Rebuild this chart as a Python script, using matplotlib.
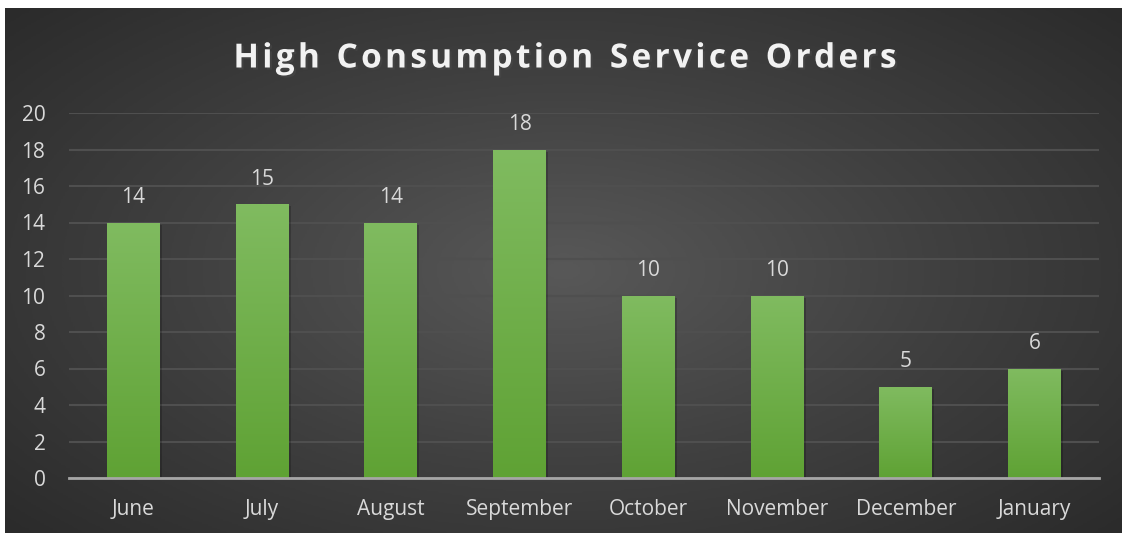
import numpy as np
import matplotlib.pyplot as plt
import matplotlib.patheffects as pe
from matplotlib.colors import LinearSegmentedColormap

# chart data
months = ['June', 'July', 'August', 'September', 'October', 'November', 'December', 'January']
orders = [14, 15, 14, 18, 10, 10, 5, 6]
y_ticks = [0, 2, 4, 6, 8, 10, 12, 14, 16, 18, 20]

fig = plt.figure(figsize=(11.22, 5.33), dpi=100)
fig.patch.set_facecolor('white')

# dark radial background panel
bg = fig.add_axes([5 / 1122, 0, 1 - 5 / 1122, 1 - 8 / 533])
bg.set_axis_off()
yy, xx = np.mgrid[-1:1:300j, -1:1:600j]
r = np.sqrt((xx / 1.0) ** 2 + (yy / 1.1) ** 2)
bg_cmap = LinearSegmentedColormap.from_list('bg', ['#585858', '#404040', '#2b2b2b'])
bg.imshow(r, cmap=bg_cmap, vmin=0, vmax=1.35, aspect='auto', extent=[0, 1, 0, 1])
bg.set_xlim(0, 1)
bg.set_ylim(0, 1)

# main plot
ax = fig.add_axes([69 / 1122, 1 - 478 / 533, 1030 / 1122, 365 / 533])
ax.patch.set_alpha(0)
x = np.arange(len(months))
bars = ax.bar(x, orders, width=0.41, color='#6aab44', zorder=3,
              path_effects=[pe.SimplePatchShadow(offset=(1.5, -1.5), shadow_rgbFace='black', alpha=0.2),
                            pe.Normal()])

# green gradient inside bars
grad_cmap = LinearSegmentedColormap.from_list('g', ['#5fa234', '#80bb60'])
grad = np.linspace(0, 1, 256).reshape(-1, 1)
for b in bars:
    im = ax.imshow(grad, cmap=grad_cmap, aspect='auto', origin='lower', zorder=4,
                   extent=[b.get_x(), b.get_x() + b.get_width(), 0, b.get_height()])
    im.set_clip_path(b)

for xi, v in zip(x, orders):
    ax.text(xi, v + 0.8, str(v), ha='center', va='bottom', color='#d9d9d9',
            fontsize=15, family='Open Sans', zorder=5)

ax.set_xlim(-0.5, len(months) - 0.5)
ax.set_ylim(0, 20)
ax.set_yticks(y_ticks)
ax.set_xticks(x)
ax.set_xticklabels(months)
ax.tick_params(axis='both', length=0, colors='#d9d9d9', labelsize=15)
ax.tick_params(axis='x', pad=15)
ax.tick_params(axis='y', pad=17)
for lab in ax.get_xticklabels() + ax.get_yticklabels():
    lab.set_family('Open Sans')
ax.grid(axis='y', color='#4f4f4f', linewidth=1.5, zorder=0)
for s in ['top', 'right', 'left']:
    ax.spines[s].set_visible(False)
ax.spines['bottom'].set_color('#a6a6a6')
ax.spines['bottom'].set_linewidth(2)
ax.spines['bottom'].set_zorder(6)

fig.text(566 / 1122, 1 - 59 / 533, 'H i g h   C o n s u m p t i o n   S e r v i c e   O r d e r s'.replace('   ', '\u2002').replace(' ', '\u200a'),
         ha='center', va='center', color='#f2f2f2', fontsize=24, fontweight='bold',
         family='Open Sans',
         path_effects=[pe.SimplePatchShadow(offset=(1.5, -1.5), alpha=0.6), pe.Normal()])

fig.savefig('out.png', dpi=100, facecolor=fig.get_facecolor())
